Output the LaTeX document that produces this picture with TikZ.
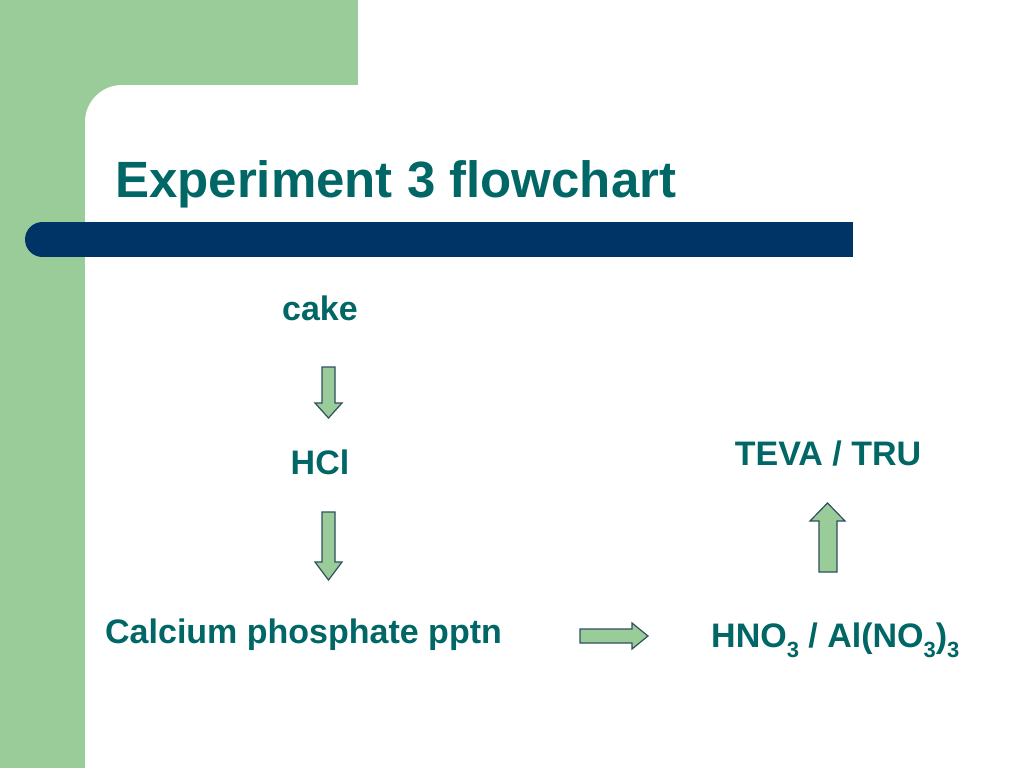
\documentclass[tikz,border=0pt]{standalone}
\usepackage{fontspec}
\setmainfont{Liberation Sans}
\definecolor{bggreen}{RGB}{153,204,153}
\definecolor{barblue}{RGB}{0,51,102}
\definecolor{tealtext}{RGB}{0,102,102}
\definecolor{arrowfill}{RGB}{153,204,153}
\definecolor{arrowline}{RGB}{47,79,95}
\newcommand\subthree{\raisebox{-10pt}{\fontsize{22}{22}\selectfont 3}}
\tikzset{
  label text/.style={text=tealtext, font=\fontsize{34}{40}\selectfont\bfseries, inner sep=0pt},
  title text/.style={text=tealtext, font=\fontsize{51}{60}\selectfont\bfseries, inner sep=0pt},
  blockarrow/.style={fill=arrowfill, draw=arrowline, line width=1.2pt, line join=miter},
}
\begin{document}
\begin{tikzpicture}[x=1pt, y=-1pt]
\useasboundingbox (0,0) rectangle (1024,768);
\begin{scope}
\clip (0,0) rectangle (1024,768);
\fill[white] (0,0) rectangle (1024,768);
\fill[bggreen] (0,0) rectangle (358,130);
\fill[bggreen] (0,0) rectangle (130,768);
\fill[white] (85,800) -- (85,122) .. controls (85,101.6) and (101.6,85) .. (122,85) -- (1050,85) -- (1050,800) -- cycle;
\end{scope}
% blue bar
\fill[barblue] (42.5,222) rectangle (853,257);
\fill[barblue] (42.5,239.5) circle [radius=17.5pt];
% title
\node[title text, anchor=base west] (title) at (115,197) {Experiment 3 flowchart};
% labels
\node[label text, anchor=base] (cake) at (320,320) {cake};
\node[label text, anchor=base] (hcl) at (320,474) {HCl};
\node[label text, anchor=base west] (calc) at (105,643) {Calcium phosphate pptn};
\node[label text, anchor=base] (teva) at (828,465) {TEVA / TRU};
\node[label text, anchor=base west] (hno) at (711,647) {HNO\subthree{} / Al(NO\subthree)\subthree};
% block arrows
\draw[blockarrow] (322,367) -- (335,367) -- (335,403) -- (342,403) -- (328.5,418) -- (315,403) -- (322,403) -- cycle;
\draw[blockarrow] (322,512) -- (335,512) -- (335,562) -- (342,562) -- (328.5,580) -- (315,562) -- (322,562) -- cycle;
\draw[blockarrow] (580,629) -- (632,629) -- (632,623) -- (648,636) -- (632,649) -- (632,643) -- (580,643) -- cycle;
\draw[blockarrow] (819,572) -- (819,521) -- (810,521) -- (827.5,503) -- (845,521) -- (837,521) -- (837,572) -- cycle;
\end{tikzpicture}
\end{document}
